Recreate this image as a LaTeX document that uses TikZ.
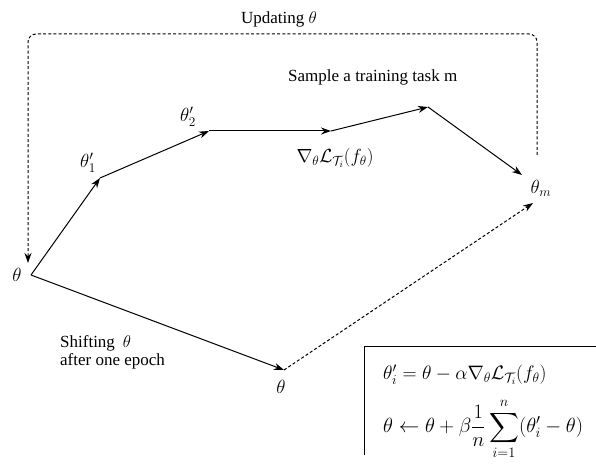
\RequirePackage{fix-cm}
\documentclass[tikz,border=0pt]{standalone}
\usepackage{amsmath}
\usepackage{fontspec}
\setmainfont{Liberation Serif}
\usetikzlibrary{arrows.meta}
\begin{document}
\begin{tikzpicture}[x=1pt,y=-1pt,
  tip/.style={-{Stealth[length=10pt,width=7pt]}},
  arr/.style={tip, line width=1pt},
  dsh/.style={tip, dash pattern=on 3pt off 2.2pt, line width=1pt},
  lbl/.style={inner sep=0pt, font=\fontsize{19}{22}\selectfont},
  txt/.style={inner sep=0pt, font=\fontsize{17}{20}\selectfont}]
\useasboundingbox (0,0) rectangle (596,465);
\coordinate (t0) at (31,275);
\coordinate (t1) at (100,178);
\coordinate (t2) at (209,131);
\coordinate (g) at (331,131);
\coordinate (s) at (428,107);
\coordinate (tm) at (522,175);
\coordinate (tb) at (284,370);
\coordinate (tmd) at (533,203);
\coordinate (us) at (537,155);
\coordinate (ue) at (28,263);

\draw[arr] (t0) -- (t1);
\draw[arr] (t1) -- (t2);
\draw[arr] (t2) -- (g);
\draw[arr] (g) -- (s);
\draw[arr] (s) -- (tm);
\draw[arr] (t0) -- (tb);
\draw[dsh] (tb) -- (tmd);
\draw[dsh, rounded corners=8pt] (us) -- (537,34) -- (28,34) -- (ue);

\node[lbl] (l0) at (17,275) {$\theta$};
\node[lbl] (l1) at (88,163) {$\theta'_1$};
\node[lbl] (l2) at (188,117) {$\theta'_2$};
\node[lbl] (lg) at (335,158) {$\nabla_\theta\mathcal{L}_{\mathcal{T}_i}(f_\theta)$};
\node[lbl] (lm) at (541,188) {$\theta_m$};
\node[lbl] (lb) at (281,387) {$\theta$};
\node[txt, anchor=base] (up) at (279,24) {Updating $\theta$};
\node[txt, anchor=base west] (sm) at (288,82) {Sample a training task m};
\node[txt, anchor=base west] (sh1) at (60,347) {Shifting\hspace{8pt}$\theta$};
\node[txt, anchor=base west] (sh2) at (60,365) {after one epoch};

\draw[line width=0.9pt] (364,455) -- (364,346) -- (596,346);
\node[lbl, anchor=west, font=\fontsize{19.5}{23}\selectfont] (e1) at (383,375) {$\theta'_i=\theta-\alpha\nabla_\theta\mathcal{L}_{\mathcal{T}_i}(f_\theta)$};
\node[lbl, anchor=west, font=\fontsize{20.5}{24}\selectfont] (e2) at (383,429) {$\displaystyle\theta\leftarrow\theta+\beta\frac{1}{n}\sum_{i=1}^{n}(\theta'_i-\theta)$};
\end{tikzpicture}
\end{document}
